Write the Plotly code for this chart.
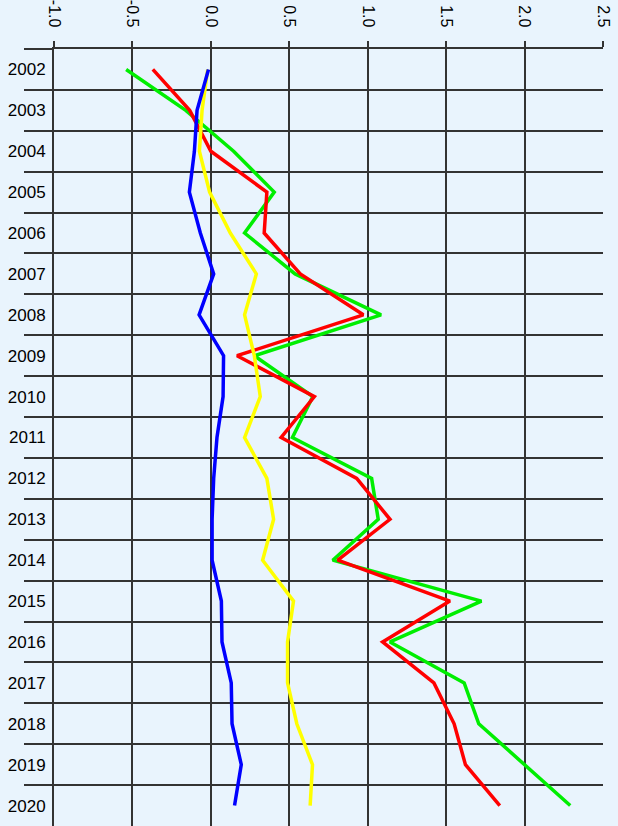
import plotly.graph_objects as go

years = [str(y) for y in range(2002, 2021)]

green = [-0.54, -0.16, 0.145, 0.404, 0.215, 0.537, 1.085, 0.277, 0.65, 0.52,
         1.025, 1.067, 0.777, 1.725, 1.142, 1.615, 1.708, 2.0, 2.291]
red = [-0.37, -0.135, 0.0, 0.357, 0.34, 0.57, 0.972, 0.167, 0.66, 0.448,
       0.93, 1.142, 0.809, 1.524, 1.095, 1.422, 1.551, 1.623, 1.842]
yellow = [-0.02, -0.056, -0.073, -0.008, 0.124, 0.29, 0.215, 0.277, 0.315, 0.215,
          0.357, 0.40, 0.33, 0.527, 0.489, 0.489, 0.548, 0.648, 0.633]
blue = [-0.015, -0.088, -0.105, -0.137, -0.067, 0.018, -0.075, 0.081, 0.078, 0.039,
        0.018, 0.008, 0.008, 0.067, 0.071, 0.13, 0.135, 0.194, 0.151]

x_ticks = [-1.0, -0.5, 0.0, 0.5, 1.0, 1.5, 2.0, 2.5]
x_tick_text = ["-1.0", "-0.5", "0.0", "0.5", "1.0", "1.5", "2.0", "2.5"]

series = [("green", green, "#00ee00"), ("red", red, "#ff0000"),
          ("yellow", yellow, "#ffff00"), ("blue", blue, "#0000ff")]

fig = go.Figure()
for name, vals, col in series:
    fig.add_trace(go.Scatter(x=vals, y=years, mode="lines", name=name,
                             line=dict(color=col, width=3.5),
                             hoverinfo="skip"))

bg = "#e9f4fd"
grid = "#333333"
fig.update_layout(
    width=618, height=826,
    margin=dict(l=54, r=15, t=49, b=0),
    paper_bgcolor=bg, plot_bgcolor=bg,
    showlegend=False,
    font=dict(family="Liberation Sans, Arial, sans-serif", color="#000000"),
)
fig.update_xaxes(
    side="top", range=[-1.0, 2.5],
    tickvals=x_ticks, ticktext=x_tick_text, tickangle=90,
    tickfont=dict(size=16, color="#000000"),
    ticks="outside", ticklen=6, tickwidth=2, tickcolor=grid,
    showline=True, linecolor=grid, linewidth=2,
    showgrid=True, gridcolor=grid, gridwidth=2,
    zeroline=False, ticklabelstandoff=8,
)
fig.update_yaxes(
    type="category", categoryorder="array", categoryarray=years,
    range=[18.5, -0.5],
    tickson="boundaries", ticks="outside", ticklen=28, tickwidth=2, tickcolor=grid,
    tickfont=dict(size=17, color="#000000"),
    showgrid=True, gridcolor=grid, gridwidth=2,
    showline=True, linecolor=grid, linewidth=2,
    zeroline=False, ticklabelstandoff=3,
)

fig.write_html(
    "out.html",
    config={"displayModeBar": False, "staticPlot": True},
    post_script="document.body.style.margin='0px';document.body.style.background='%s';" % bg,
)
